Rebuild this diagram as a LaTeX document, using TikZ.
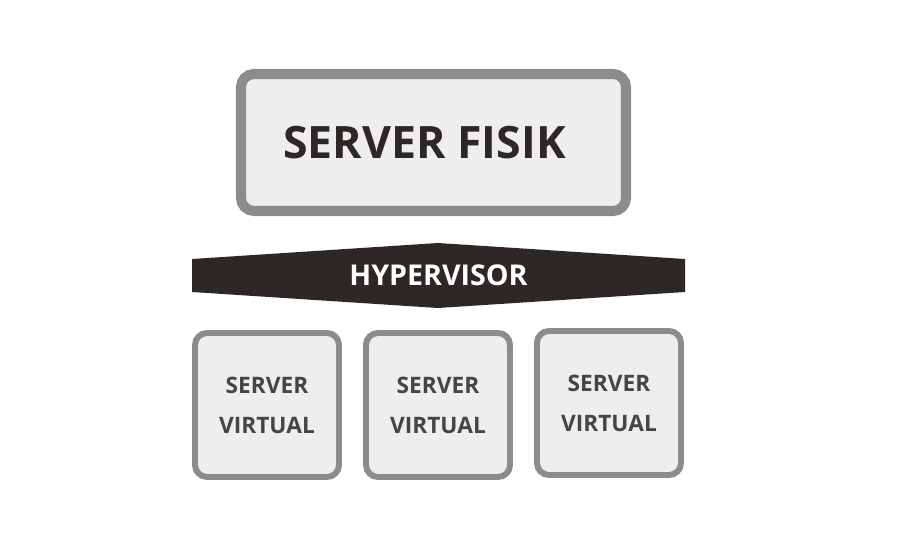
\documentclass[tikz,border=0pt]{standalone}
\usepackage{fontspec}
\setmainfont{Open Sans}
\usetikzlibrary{positioning}
\definecolor{boxgray}{HTML}{8C8C8C}
\definecolor{boxfill}{HTML}{EEEEEE}
\definecolor{hyperdark}{HTML}{2D2726}
\definecolor{virttext}{HTML}{454545}
\tikzset{
  fisikbox/.style={draw=boxgray, fill=boxfill, line width=5.7pt, rounded corners=0.26cm,
    minimum width=7.7cm, minimum height=2.74cm, text=hyperdark,
    font=\fontsize{25.4}{30}\selectfont\bfseries},
  virtbox/.style={draw=boxgray, fill=boxfill, line width=3.4pt, rounded corners=0.24cm,
    minimum width=2.88cm, minimum height=2.88cm, align=center, text=virttext,
    font=\fontsize{12.9}{22.8}\selectfont\bfseries},
  hyperlabel/.style={text=white, font=\fontsize{16.3}{19}\selectfont\bfseries}
}
\begin{document}
\begin{tikzpicture}[node distance=3.42cm, on grid]
          \fill[white] (0,0) rectangle (18,10.96);

          % physical server
          \node (fisik) [fisikbox] at (8.67,8.11) {SERVER FISIK\kern0.36cm};

          % hypervisor band
          \fill[hyperdark] (3.84,5.78) -- (8.76,6.10) -- (13.70,5.78)
                        -- (13.70,5.12) -- (8.76,4.80) -- (3.84,5.12) -- cycle;
          \node (hyper) [hyperlabel] at (8.77,5.45) {HYPERVISOR};

          % virtual servers
          \node (v1) [virtbox] at (5.34,2.86) {SERVER\\VIRTUAL};
          \node (v2) [virtbox, right=of v1]   {SERVER\\VIRTUAL};
          \node (v3) [virtbox, right=of v2, yshift=0.04cm] {SERVER\\VIRTUAL};
\end{tikzpicture}
\end{document}
